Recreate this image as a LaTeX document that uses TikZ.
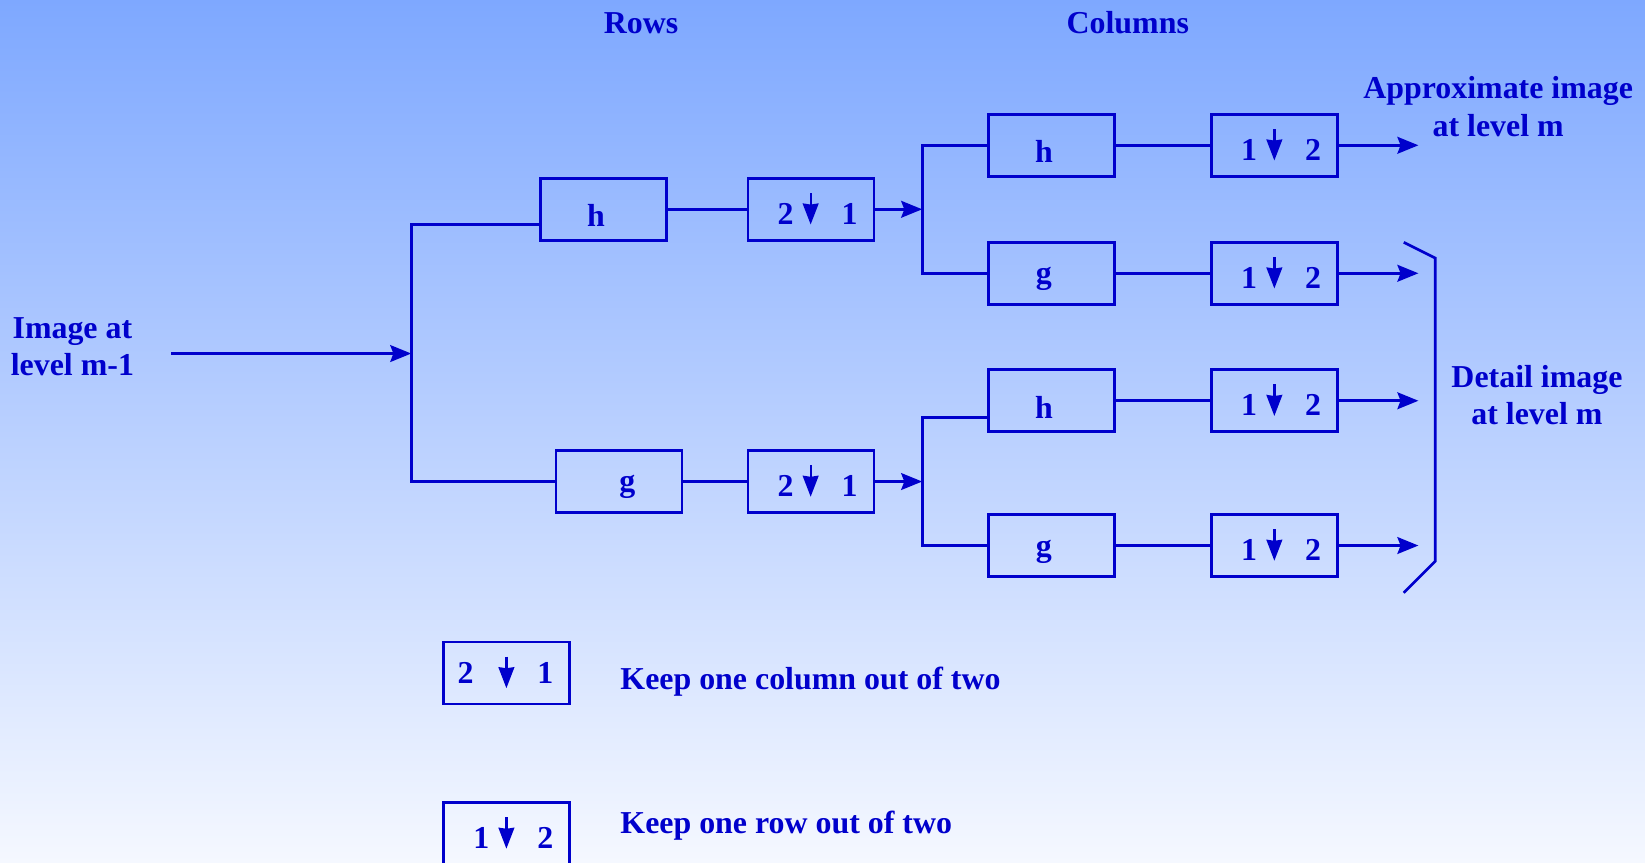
\documentclass[tikz,border=0pt]{standalone}
\usepackage{fontspec}
\setmainfont{Liberation Serif}
\usetikzlibrary{arrows.meta,calc}
\definecolor{ink}{RGB}{0,0,204}
\definecolor{bgtop}{RGB}{126,168,255}
\definecolor{bgbot}{RGB}{245,248,255}
\tikzset{
  box/.style={draw=ink, line width=1.3pt, minimum width=60pt, minimum height=29.5pt, inner sep=0pt},
  lbl/.style={text=ink, font=\fontsize{15.2}{18}\selectfont\bfseries, align=center, inner sep=0pt},
  conn/.style={draw=ink, line width=1.3pt},
  arr/.style={conn, -{Stealth[length=10pt,width=8pt,inset=1.5pt]}},
  darr/.style={draw=ink, line width=1.1pt, -{Stealth[length=10pt,width=7.5pt,inset=0.5pt]}}
}
% #1 name, #2 x, #3 y, #4 first digit, #5 second digit, #6 first digit offset, #7 digit y offset
\newcommand\dsbox[7]{%
  \node[box] (#1) at (#2,#3) {};
  \node[lbl] (#1-a) at ($(#1.west)+(#6,#7)$) {#4};
  \node[lbl] (#1-b) at ($(#1.west)+(98,#7)$) {#5};
  \coordinate (#1-s) at ($(#1.west)+(61,-15.5)$);
  \coordinate (#1-e) at ($(#1.west)+(61,14.5)$);
  \draw[darr] (#1-s) -- (#1-e);
}
\begin{document}
\begin{tikzpicture}[x=0.5pt,y=-0.5pt]
\fill[top color=bgtop, bottom color=bgbot] (0,0) rectangle (1568,822);
\useasboundingbox (0,0) rectangle (1568,822);

% titles
\node[lbl] (rows) at (611,22) {Rows};
\node[lbl] (cols) at (1075,22) {Columns};
\node[lbl] (input) at (69,330.5) {Image at\\level m-1};
\node[lbl] (approx) at (1428,101.5) {Approximate image\\at level m};
\node[lbl] (detail) at (1465,376.5) {Detail image\\at level m};

% row filters
\node[box] (hA) at (575,199.5) {};
\node[lbl] (hA-t) at (568,205) {h};
\node[box] (gA) at (590,459) {};
\node[lbl] (gA-t) at (598,464) {g};
\dsbox{dA}{773}{199.5}{2}{1}{37}{4}
\dsbox{dD}{773}{459}{2}{1}{37}{4}

% column filters
\node[box] (hB) at (1002,138.5) {};
\node[lbl] (hB-t) at (995,144) {h};
\node[box] (gB) at (1002,260.5) {};
\node[lbl] (gB-t) at (995,266) {g};
\node[box] (hC) at (1002,382) {};
\node[lbl] (hC-t) at (995,388) {h};
\node[box] (gC) at (1002,520) {};
\node[lbl] (gC-t) at (995,526) {g};
\dsbox{dB}{1215}{138.5}{1}{2}{37}{4}
\dsbox{dC}{1215}{260.5}{1}{2}{37}{4}
\dsbox{dE}{1215}{382}{1}{2}{37}{4}
\dsbox{dF}{1215}{520}{1}{2}{37}{4}

% junction coordinates
\coordinate (in) at (163,337);
\coordinate (j1) at (392,337);
\coordinate (j1t) at (392,214);
\coordinate (j1b) at (392,459);
\coordinate (j2) at (879,199.5);
\coordinate (j2t) at (879,138.5);
\coordinate (j2b) at (879,260.5);
\coordinate (j3) at (879,459);
\coordinate (j3t) at (879,398);
\coordinate (j3b) at (879,520);

% connectors
\draw[arr] (in) -- (j1);
\draw[conn] (hA.west |- j1t) -- (j1t) -- (j1b) -- (gA.west);
\draw[conn] (hA.east) -- (dA.west);
\draw[conn] (gA.east) -- (dD.west);
\draw[arr] (dA.east) -- (j2);
\draw[arr] (dD.east) -- (j3);
\draw[conn] (hB.west) -- (j2t) -- (j2b) -- (gB.west);
\draw[conn] (hC.west |- j3t) -- (j3t) -- (j3b) -- (gC.west);
\draw[conn] (hB.east) -- (dB.west);
\draw[conn] (gB.east) -- (dC.west);
\draw[conn] (hC.east) -- (dE.west);
\draw[conn] (gC.east) -- (dF.west);

\coordinate (oB) at (1352,138.5);
\coordinate (oC) at (1352,260.5);
\coordinate (oE) at (1352,382);
\coordinate (oF) at (1352,520);
\draw[arr] (dB.east) -- (oB);
\draw[arr] (dC.east) -- (oC);
\draw[arr] (dE.east) -- (oE);
\draw[arr] (dF.east) -- (oF);

% bracket
\coordinate (b1) at (1338,231);
\coordinate (b2) at (1368,246);
\coordinate (b3) at (1368,535);
\coordinate (b4) at (1338,565);
\draw[conn] (b1) -- (b2) -- (b3) -- (b4);

% legend
\dsbox{L1}{483}{641.5}{2}{1}{22}{0}
\dsbox{L2}{483}{794.5}{1}{2}{37}{4}
\node[lbl, anchor=west] (k1) at (591,650) {Keep one column out of two};
\node[lbl, anchor=west] (k2) at (591,787) {Keep one row out of two};
\end{tikzpicture}
\end{document}
